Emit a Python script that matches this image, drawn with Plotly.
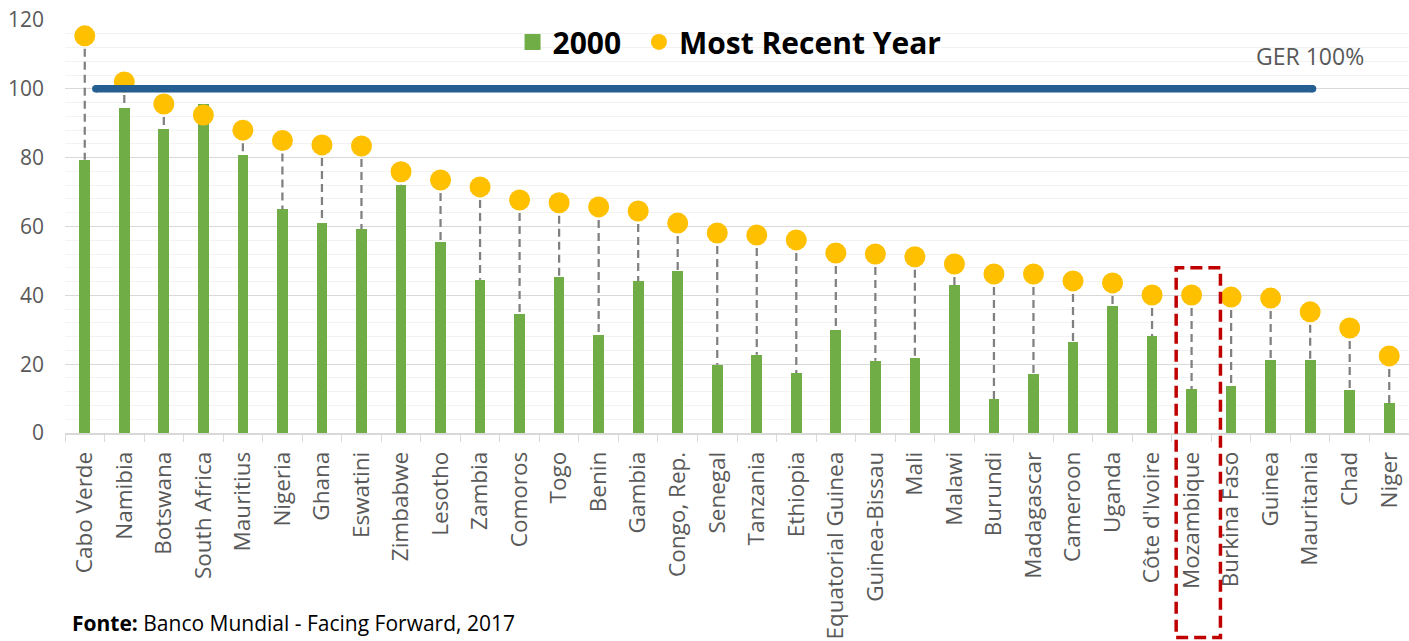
import plotly.graph_objects as go

countries = ["Cabo Verde", "Namibia", "Botswana", "South Africa", "Mauritius", "Nigeria", "Ghana",
             "Eswatini", "Zimbabwe", "Lesotho", "Zambia", "Comoros", "Togo", "Benin", "Gambia",
             "Congo, Rep.", "Senegal", "Tanzania", "Ethiopia", "Equatorial Guinea", "Guinea-Bissau",
             "Mali", "Malawi", "Burundi", "Madagascar", "Cameroon", "Uganda", "Côte d'Ivoire",
             "Mozambique", "Burkina Faso", "Guinea", "Mauritania", "Chad", "Niger"]

ger_2000 = [79.4, 94.5, 88.4, 95.6, 80.8, 65.0, 61.0, 59.3, 72.0, 55.5, 44.5, 34.6, 45.3, 28.5,
            44.2, 47.0, 19.8, 22.7, 17.4, 30.0, 21.0, 21.8, 43.0, 9.9, 17.2, 26.5, 36.9, 28.2,
            12.8, 13.7, 21.2, 21.2, 12.5, 8.7]

ger_recent = [115.4, 102.0, 95.6, 92.4, 88.0, 85.0, 83.7, 83.4, 75.9, 73.5, 71.5, 67.7, 66.9,
              65.7, 64.5, 61.0, 58.1, 57.5, 56.1, 52.3, 52.0, 51.2, 49.1, 46.2, 46.2, 44.2, 43.6,
              40.1, 40.1, 39.5, 39.2, 35.2, 30.5, 22.4]

ger_line_x = [0.28, 31.06]
ger_line_y = [100, 100]
ger_label = "GER 100%"
highlight = "Mozambique"
y_ticks = [0, 20, 40, 60, 80, 100, 120]

FONT = "Open Sans, Noto Sans, sans-serif"
GRAY = "#595959"

# dashed connectors from dot down to the bar top
cx, cy = [], []
for c, b, r in zip(countries, ger_2000, ger_recent):
    if r > b:
        cx += [c, c, None]
        cy += [r, b, None]

fig = go.Figure()

fig.add_trace(go.Bar(x=countries, y=ger_2000, marker=dict(color="#70AD47", line=dict(width=0)),
                     width=0.27, showlegend=False, name="2000"))

fig.add_trace(go.Scatter(x=cx, y=cy, mode="lines",
                         line=dict(color="#808080", width=2.25, dash="8px,5px"),
                         showlegend=False, hoverinfo="skip"))

fig.add_trace(go.Scatter(x=ger_line_x, y=ger_line_y, mode="lines+markers", xaxis="x2",
                         line=dict(color="#255E91", width=7.5),
                         marker=dict(color="#255E91", size=7.5),
                         showlegend=False, hoverinfo="skip"))

fig.add_trace(go.Scatter(x=countries, y=ger_recent, mode="markers",
                         marker=dict(color="#FFC000", size=21, line=dict(width=0)),
                         showlegend=False, name="Most Recent Year"))

# legend proxies
fig.add_trace(go.Scatter(x=[None], y=[None], mode="markers", name="2000\u00a0\u2009",
                         marker=dict(color="#70AD47", symbol="square", size=16)))
fig.add_trace(go.Scatter(x=[None], y=[None], mode="markers", name="Most Recent Year",
                         marker=dict(color="#FFC000", symbol="circle", size=16)))

idx = countries.index(highlight)
fig.add_shape(type="rect", xref="x2", yref="paper", x0=idx - 0.39, x1=idx + 0.73,
              y0=-0.495, y1=48 / 120, line=dict(color="#C00000", width=3.5, dash="12px,6px"),
              fillcolor="rgba(0,0,0,0)", layer="above")

fig.add_annotation(x=31, y=109.6, xref="x2", yref="y", text=ger_label, showarrow=False,
                   font=dict(family=FONT, size=23, color=GRAY))

fig.add_annotation(x=0.0037, y=-0.499, xref="paper", yref="paper", xanchor="left", yanchor="bottom",
                   text="<b>Fonte:</b> Banco Mundial - Facing Forward, 2017", showarrow=False,
                   font=dict(family=FONT, size=21, color="#000000"))

fig.update_layout(
    width=1409, height=641,
    margin=dict(l=65, r=0, t=20, b=208),
    plot_bgcolor="white", paper_bgcolor="white",
    font=dict(family=FONT, color=GRAY),
    bargap=0,
    legend=dict(orientation="h", x=0.333, y=0.947, xanchor="left", yanchor="middle",
                font=dict(family=FONT, size=30, color="#000000", weight="bold"),
                bgcolor="rgba(0,0,0,0)", itemclick=False, itemdoubleclick=False),
    xaxis=dict(type="category", range=[-0.5, 33.5], tickangle=-90, automargin=False,
               tickfont=dict(family=FONT, size=22.5, color=GRAY), ticklabelstandoff=8,
               showline=True, linecolor="#D9D9D9", linewidth=1.5,
               ticks="outside", tickson="boundaries", ticklen=7, tickcolor="#D9D9D9", tickwidth=1.3,
               showgrid=False, fixedrange=True),
    xaxis2=dict(overlaying="x", anchor="y", range=[-0.5, 33.5], visible=False, fixedrange=True),
    yaxis=dict(range=[0, 120], tickvals=y_ticks, tickfont=dict(family=FONT, size=21, color=GRAY),
               showgrid=True, gridcolor="#D9D9D9", gridwidth=1.3, zeroline=False, automargin=False,
               ticklabelstandoff=20, showline=False,
               minor=dict(dtick=4, showgrid=True, gridcolor="#F2F2F2", gridwidth=1.3),
               fixedrange=True),
)

fig.write_html("out.html", config={"displayModeBar": False},
               post_script="document.body.style.margin='0';document.body.style.overflow='hidden';")
